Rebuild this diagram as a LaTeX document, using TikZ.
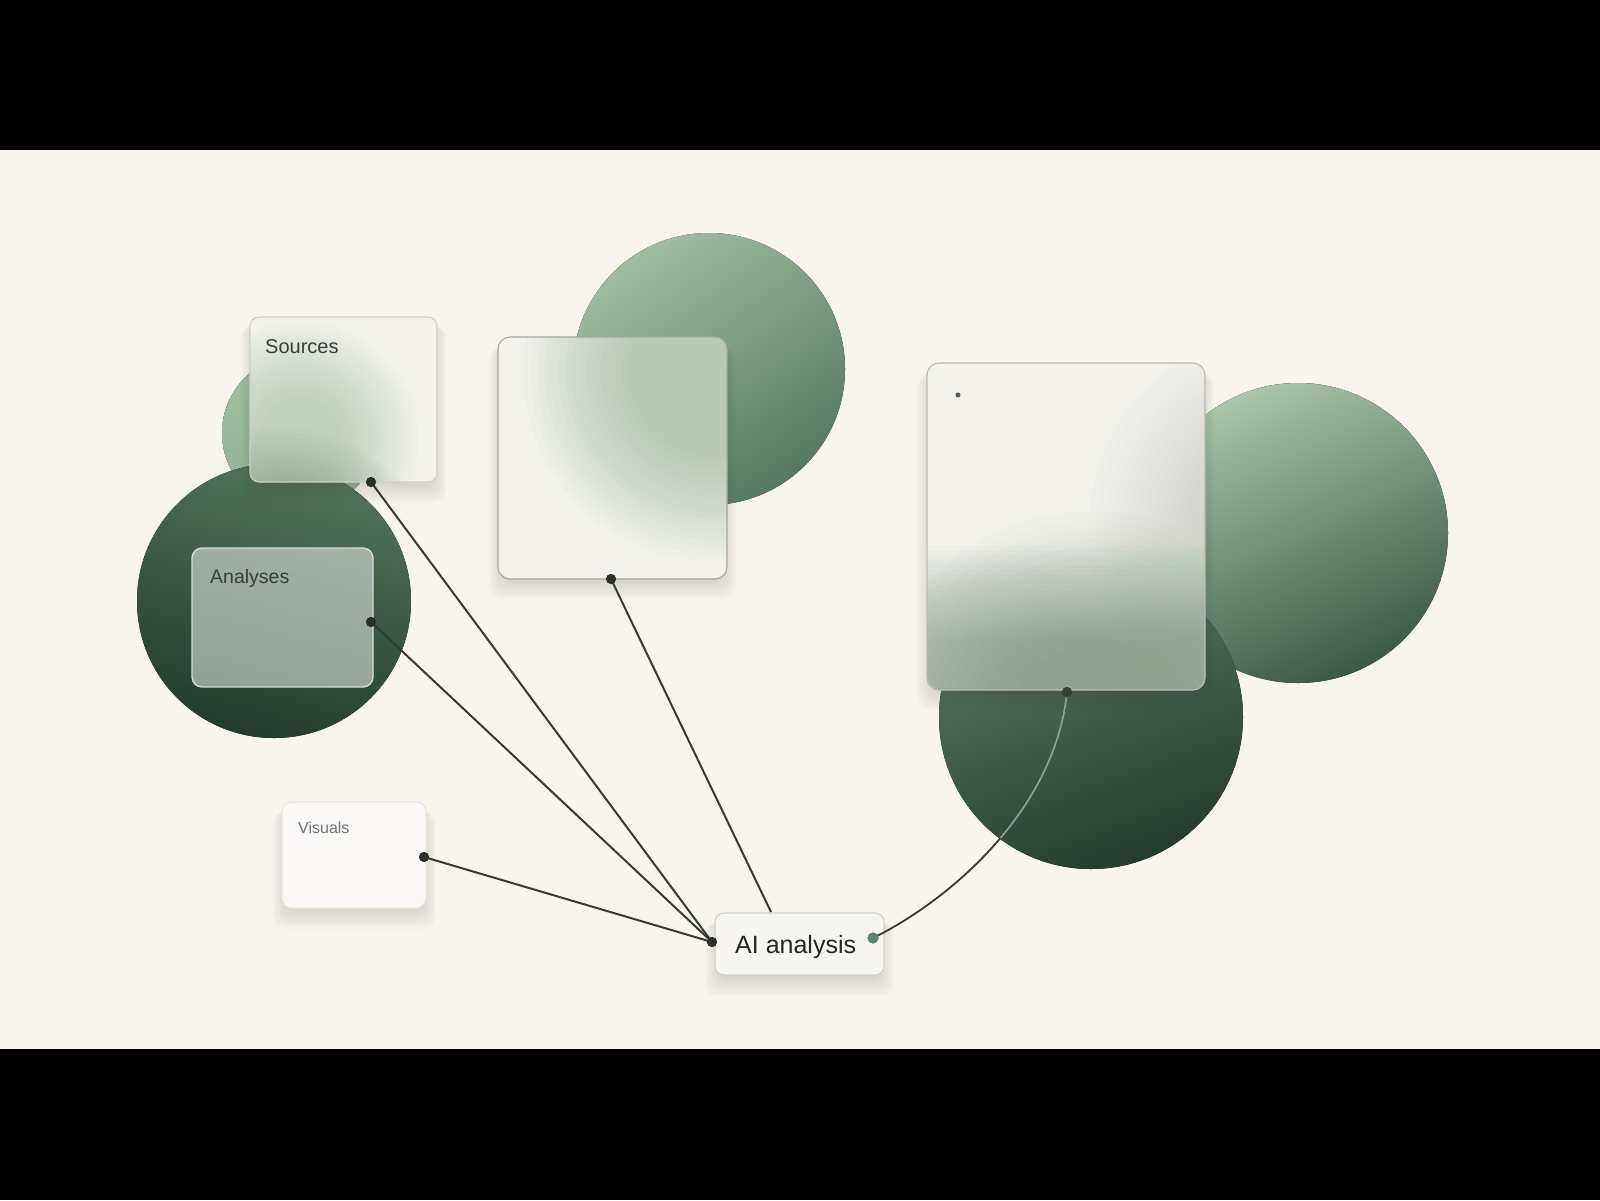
\documentclass[tikz,border=0pt]{standalone}
\usepackage{fontspec}
\setmainfont{Liberation Sans}
\usetikzlibrary{calc}
\definecolor{bgc}{HTML}{F8F5EE}
\definecolor{cLtop}{HTML}{A2C1A2}
\definecolor{cLbot}{HTML}{90B192}
\definecolor{cCtop}{HTML}{A0BD9F}
\definecolor{cCbot}{HTML}{557A62}
\definecolor{cURtop}{HTML}{AAC5A7}
\definecolor{cURbot}{HTML}{3A5947}
\definecolor{cAtop}{HTML}{50745C}
\definecolor{cAbot}{HTML}{233B2E}
\definecolor{cBRtop}{HTML}{5A7D65}
\definecolor{cBRbot}{HTML}{243C2F}
\definecolor{glassc}{HTML}{F2F1EC}
\definecolor{glassb}{HTML}{CDD0C9}
\definecolor{txtc}{HTML}{3A3C3A}
\definecolor{linec}{HTML}{373B38}
\definecolor{dotc}{HTML}{2C302D}
\definecolor{dotg}{HTML}{5E8570}
\definecolor{lightline}{HTML}{8E9E94}
\definecolor{shadc}{HTML}{5A5548}
\pgfdeclarelayer{circ}
\pgfdeclarelayer{shad}
\pgfsetlayers{circ,shad,main}
% #1,#2 centre, #3 radius, #4 colour, #5 opacity per layer, #6 step
\newcommand\blurdisc[6]{\foreach \k in {0,...,15}{\fill[#4, fill opacity=#5] (#1,#2) circle[radius={(#3-7.5*#6+#6*\k)*1pt}];}}
% soft drop shadow under a named box
\newcommand\softshadow[2]{\begin{pgfonlayer}{shad}\foreach \k in {0,...,9}{\fill[shadc, fill opacity=0.02, rounded corners=#2] ($(#1.north west)+(-\k*1.4+3,5+0.6*\k)$) rectangle ($(#1.south east)+(\k*1.4-3,3+2*\k)$);}\end{pgfonlayer}}
\begin{document}
\begin{tikzpicture}[x=1pt,y=-1pt,
  glass/.style={rectangle, fill=glassc, inner sep=0pt, outer sep=0pt},
  glassborder/.style={draw=glassb, line width=1.1pt},
  dot/.style={circle, fill=dotc, inner sep=0pt, minimum size=10pt},
  conn/.style={draw=linec, line width=2pt},
  lbl/.style={anchor=base west, inner sep=0pt, text=txtc}]
\begin{pgfonlayer}{circ}
\useasboundingbox (0,0) rectangle (1600,1200);
\fill[bgc] (0,0) rectangle (1600,1200);
\fill[black] (0,0) rectangle (1600,150);
\fill[black] (0,1049) rectangle (1600,1200);
% circles
\fill[top color=cLtop, bottom color=cLbot] (300,433) circle[radius=78pt];
\fill[top color=cCtop, bottom color=cCbot, shading angle=35] (709,369) circle[radius=136pt];
\fill[top color=cURtop, bottom color=cURbot, shading angle=25] (1298,533) circle[radius=150pt];
\fill[top color=cBRtop, bottom color=cBRbot, shading angle=20] (1091,717) circle[radius=152pt];
\fill[top color=cAtop, bottom color=cAbot, shading angle=-15] (274,601) circle[radius=137pt];
\end{pgfonlayer}

% boxes
\node[glass, minimum width=187pt, minimum height=165pt, rounded corners=9pt] (sources) at (343.5,399.5) {};
\node[glass, minimum width=229pt, minimum height=242pt, rounded corners=12pt] (mid) at (612.5,458) {};
\node[glass, minimum width=278pt, minimum height=327pt, rounded corners=12pt] (right) at (1066,526.5) {};
\node[rectangle, fill=white, fill opacity=0.5, inner sep=0pt, outer sep=0pt, minimum width=181pt, minimum height=139pt, rounded corners=10pt] (analyses) at (282.5,617.5) {};
\node[glass, fill=white!60!glassc, minimum width=144pt, minimum height=106pt, rounded corners=10pt] (visuals) at (354,855) {};
\node[glass, fill=white!30!glassc, minimum width=169pt, minimum height=62pt, rounded corners=9pt] (ai) at (799.5,944) {};

\softshadow{sources}{10pt}
\softshadow{mid}{14pt}
\softshadow{right}{14pt}
\softshadow{visuals}{12pt}
\softshadow{ai}{10pt}

% frosted overlays
\begin{scope}
\clip[rounded corners=9pt] (sources.north west) rectangle (sources.south east);
\blurdisc{300}{440}{80}{cLtop!85!cLbot}{0.045}{5}
\blurdisc{274}{601}{137}{cAtop}{0.03}{5}
\end{scope}
\begin{scope}
\clip[rounded corners=12pt] (mid.north west) rectangle (mid.south east);
\blurdisc{712}{372}{136}{cCtop!75!cCbot}{0.045}{7}
\end{scope}
\begin{scope}
\clip[rounded corners=12pt] (right.north west) rectangle (right.south east);
\blurdisc{1091}{735}{156}{cBRtop!90!gray}{0.025}{9}
\foreach \k in {0,...,19}{\fill[cBRtop!90!gray, fill opacity=0.022] (920,{545+5*\k}) rectangle (1215,700);}
\blurdisc{1298}{533}{150}{cURtop!70!cURbot}{0.018}{8}
\end{scope}

% borders
\draw[glassborder, rounded corners=9pt] (sources.north west) rectangle (sources.south east);
\draw[glassborder, draw=glassb!80!black, rounded corners=12pt] (mid.north west) rectangle (mid.south east);
\draw[glassborder, draw=glassb!90!black, rounded corners=12pt] (right.north west) rectangle (right.south east);
\draw[draw=white!75!cAtop, line width=1.4pt, rounded corners=10pt] (analyses.north west) rectangle (analyses.south east);
\draw[glassborder, draw=glassb!50!white, rounded corners=10pt] (visuals.north west) rectangle (visuals.south east);
\draw[glassborder, rounded corners=9pt] (ai.north west) rectangle (ai.south east);

% small mark in the right box
\fill[gray!70!black] (958,395) circle[radius=2.5pt];

% labels
\node[lbl, font=\fontsize{20}{24}\selectfont] (tsources) at (265,353) {Sources};
\node[lbl, font=\fontsize{19.5}{24}\selectfont] (tanalyses) at (210,583) {Analyses};
\node[lbl, font=\fontsize{16}{20}\selectfont, text=gray!90!black] (tvisuals) at (298,833) {Visuals};
\node[lbl, font=\fontsize{25}{30}\selectfont, text=black!85] (tai) at (735,953) {AI analysis};

% dots
\node[dot] (dsrc) at (371,482) {};
\node[dot] (dana) at (371,622) {};
\node[dot] (dmid) at (611,579) {};
\node[dot] (dvis) at (424,857) {};
\node[dot] (daiL) at (712,942) {};
\node[dot, fill=dotg, minimum size=11pt] (daiR) at (873,938) {};
\node[dot, fill=dotc!80!cBRtop] (drb) at (1067,692) {};
\coordinate (aitop) at (771,912);

% connectors
\draw[conn] (dsrc.center) -- (daiL.center);
\draw[conn] (dana.center) -- (daiL.center);
\draw[conn] (dvis.center) -- (daiL.center);
\draw[conn] (dmid.center) -- (aitop);
\draw[conn, line width=1.8pt] (daiR.center) .. controls (950,900) and (1055,810) .. (drb.center);
\begin{scope}
\clip (1091,717) circle[radius=151pt];
\draw[conn, draw=lightline, line width=1.8pt] (daiR.center) .. controls (950,900) and (1055,810) .. (drb.center);
\end{scope}
\node[dot] at (dsrc) {};
\node[dot] at (dana) {};
\node[dot] at (dmid) {};
\node[dot] at (dvis) {};
\node[dot] at (daiL) {};
\node[dot, fill=dotg, minimum size=11pt] at (daiR) {};
\node[dot, fill=dotc!80!cBRtop] at (drb) {};
\end{tikzpicture}
\end{document}
